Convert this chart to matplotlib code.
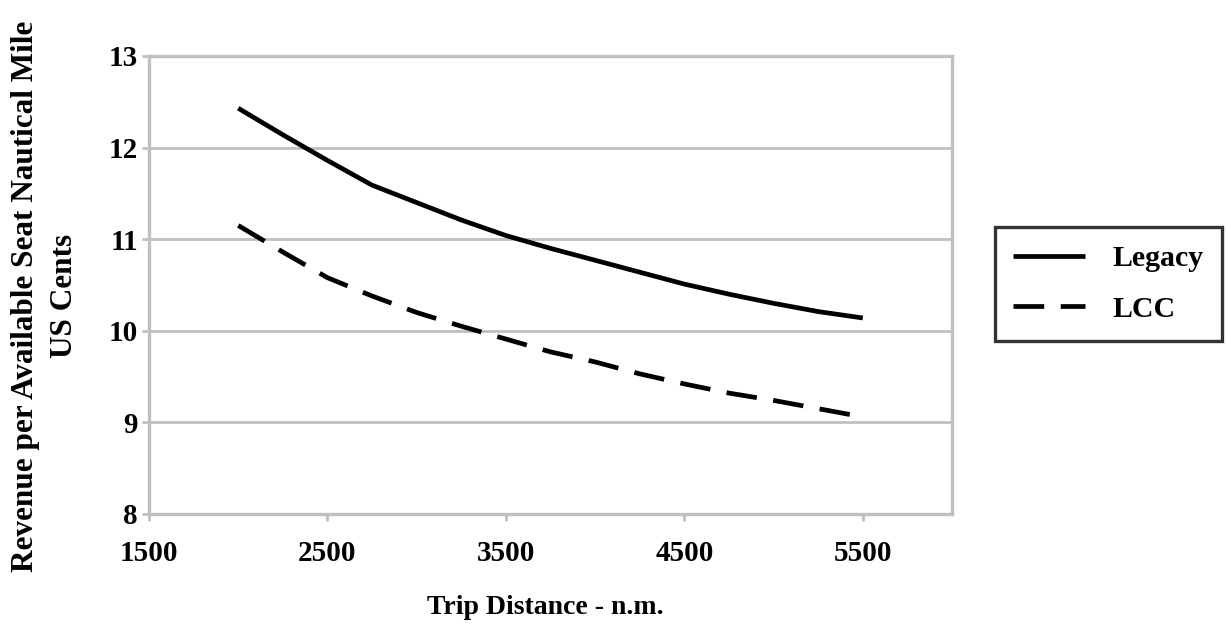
import matplotlib
matplotlib.use("Agg")
import matplotlib.pyplot as plt

# ---- data ----
trip_distance = [2000, 2250, 2500, 2750, 3000, 3250, 3500, 3750, 4000, 4250, 4500, 4750, 5000, 5250, 5500]
legacy = [12.43, 12.14, 11.86, 11.59, 11.40, 11.21, 11.04, 10.90, 10.77, 10.64, 10.51, 10.40, 10.30, 10.21, 10.14]
lcc = [11.15, 10.86, 10.58, 10.38, 10.20, 10.05, 9.91, 9.77, 9.66, 9.53, 9.42, 9.32, 9.24, 9.15, 9.06]
x_ticks = [1500, 2500, 3500, 4500, 5500]
y_ticks = [8, 9, 10, 11, 12, 13]
series_names = ["Legacy", "LCC"]
x_label = "Trip Distance - n.m."
y_label = "Revenue per Available Seat Nautical Mile\nUS Cents"

FONT = "Liberation Serif"
GRID = "#c0c0c0"

fig = plt.figure(figsize=(12.26, 6.26), dpi=100)
W, H = 1226, 626
left, right, top, bottom = 149, 952, 56, 514
ax = fig.add_axes([left / W, 1 - bottom / H, (right - left) / W, (bottom - top) / H])

ax.plot(trip_distance, legacy, color="black", lw=3.4, solid_capstyle="butt",
        solid_joinstyle="round", label=series_names[0], zorder=3)
ax.plot(trip_distance, lcc, color="black", lw=3.4, dashes=(6.5, 3.5),
        dash_capstyle="butt", label=series_names[1], zorder=3)

ax.set_xlim(1500, 6000)
ax.set_ylim(8, 13)
ax.set_xticks(x_ticks)
ax.set_yticks(y_ticks)
ax.yaxis.grid(True, color=GRID, lw=2.0)
ax.set_axisbelow(True)
for s in ax.spines.values():
    s.set_color(GRID)
    s.set_linewidth(2.4)

ax.tick_params(axis="both", colors=GRID, width=2.0, length=5)
ax.tick_params(axis="y", pad=3)
ax.tick_params(axis="x", pad=14)
for lab in ax.get_xticklabels() + ax.get_yticklabels():
    lab.set_fontfamily(FONT)
    lab.set_fontweight("bold")
    lab.set_fontsize(21)
    lab.set_color("black")

ax.set_xlabel(x_label, fontfamily=FONT, fontweight="bold", fontsize=20, va="center")
ax.xaxis.set_label_coords(0.494, (bottom - 607) / (bottom - top))
ax.set_ylabel(y_label, fontfamily=FONT, fontweight="bold", fontsize=22.5,
              va="center", ha="center", linespacing=1.45, multialignment="center")
ax.yaxis.set_label_coords((45 - left) / (right - left), (bottom - 296) / (bottom - top))

leg = fig.legend(loc="center left", bbox_to_anchor=(995 / W, 1 - 284 / H),
                 prop={"family": FONT, "weight": "bold", "size": 21.5},
                 frameon=True, fancybox=False, edgecolor="black",
                 handlelength=2.4, handletextpad=0.95, labelspacing=0.8,
                 borderpad=0.6, borderaxespad=0)
leg.get_frame().set_linewidth(2.4)

fig.savefig("out.png", dpi=100, facecolor="white")
